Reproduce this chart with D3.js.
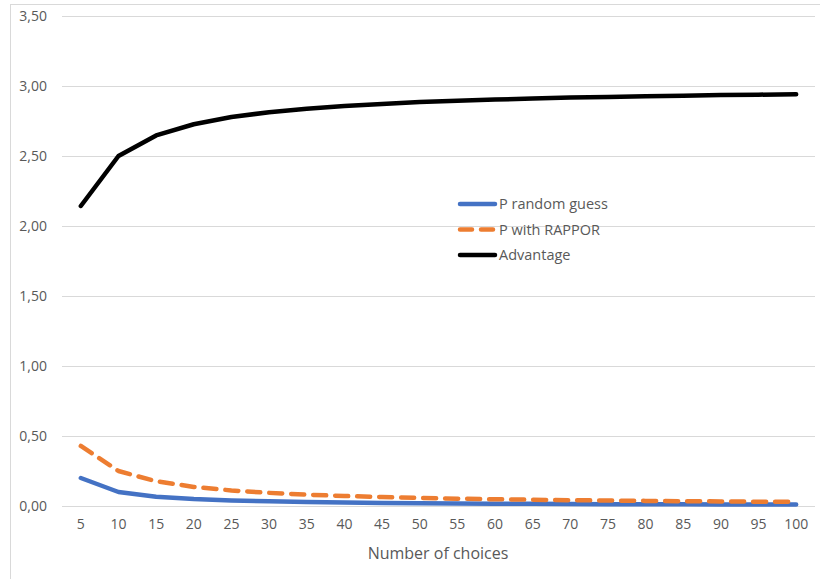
<!DOCTYPE html>
<html>
<head>
<meta charset="utf-8">
<script src="https://cdn.jsdelivr.net/npm/d3@7"></script>
<style>
  html, body { margin: 0; padding: 0; background: #fff; }
  svg { display: block; font-family: "Open Sans", "Liberation Sans", sans-serif; }
</style>
</head>
<body>
<svg id="chart" width="820" height="579"></svg>
<script>
// Number of choices on the x axis
const choices = [5, 10, 15, 20, 25, 30, 35, 40, 45, 50, 55, 60, 65, 70, 75, 80, 85, 90, 95, 100];

// Probability of guessing right at random
const pRandom = [0.2000, 0.1000, 0.0667, 0.0500, 0.0400, 0.0333, 0.0286, 0.0250, 0.0222, 0.0200,
                 0.0182, 0.0167, 0.0154, 0.0143, 0.0133, 0.0125, 0.0118, 0.0111, 0.0105, 0.0100];

// Probability of guessing right with RAPPOR
const pRappor = [0.4286, 0.2500, 0.1765, 0.1364, 0.1111, 0.0938, 0.0811, 0.0714, 0.0638, 0.0577,
                 0.0526, 0.0484, 0.0448, 0.0417, 0.0390, 0.0366, 0.0345, 0.0326, 0.0309, 0.0294];

// Advantage ratio
const advantage = [2.143, 2.500, 2.647, 2.727, 2.778, 2.813, 2.838, 2.857, 2.872, 2.885,
                   2.895, 2.903, 2.910, 2.917, 2.922, 2.927, 2.931, 2.935, 2.938, 2.941];

const yTicks = [0, 0.5, 1, 1.5, 2, 2.5, 3, 3.5];

const seriesNames = ["P random guess", "P with RAPPOR", "Advantage"];
const seriesColors = ["#4472C4", "#ED7D31", "#000000"];

const series = [
  { name: seriesNames[0], values: pRandom,   color: seriesColors[0], dash: null },
  { name: seriesNames[1], values: pRappor,   color: seriesColors[1], dash: "13,9" },
  { name: seriesNames[2], values: advantage, color: seriesColors[2], dash: null }
];

const svg = d3.select("#chart");
const plot = { left: 62, right: 815, top: 16, bottom: 506 };

// Chart area frame
svg.append("rect")
  .attr("x", 10.5).attr("y", 4.5)
  .attr("width", 820).attr("height", 600)
  .attr("fill", "none").attr("stroke", "#d9d9d9").attr("stroke-width", 1);

const x = d3.scaleBand().domain(choices).range([plot.left, plot.right]);
const y = d3.scaleLinear().domain([0, 3.5]).range([plot.bottom, plot.top]);

// Horizontal gridlines
svg.append("g").selectAll("line").data(yTicks).join("line")
  .attr("x1", plot.left).attr("x2", plot.right)
  .attr("y1", d => Math.round(y(d)) + 0.5).attr("y2", d => Math.round(y(d)) + 0.5)
  .attr("stroke", "#d9d9d9").attr("stroke-width", 1);

// Y axis labels
const yAxis = d3.axisLeft(y).tickValues(yTicks).tickSize(0).tickPadding(0)
  .tickFormat(d => d3.format(".2f")(d).replace(".", ","));
const gy = svg.append("g").attr("transform", `translate(${plot.left - 15},0)`).call(yAxis);
gy.select(".domain").remove();
gy.selectAll("text").attr("font-size", 14).attr("fill", "#595959")
  .attr("font-family", "\"Open Sans\", sans-serif");

// X axis labels
const xAxis = d3.axisBottom(x).tickSize(0).tickPadding(0);
const gx = svg.append("g").attr("transform", `translate(0,${plot.bottom + 13})`).call(xAxis);
gx.select(".domain").remove();
gx.selectAll("text").attr("font-size", 14).attr("fill", "#595959")
  .attr("font-family", "\"Open Sans\", sans-serif");

// X axis title
svg.append("text")
  .attr("x", 438).attr("y", 559)
  .attr("text-anchor", "middle").attr("font-size", 16).attr("fill", "#595959")
  .text("Number of choices");

// Series lines
const line = d3.line()
  .x((d, i) => x(choices[i]) + x.bandwidth() / 2)
  .y(d => y(d));

svg.append("g").selectAll("path").data(series).join("path")
  .attr("d", s => line(s.values))
  .attr("fill", "none")
  .attr("stroke", s => s.color)
  .attr("stroke-width", 4.5)
  .attr("stroke-linejoin", "round")
  .attr("stroke-linecap", "round")
  .attr("stroke-dasharray", s => s.dash);

// Legend
const legend = svg.append("g").attr("transform", "translate(458,204)");
const rows = legend.selectAll("g").data(series).join("g")
  .attr("transform", (d, i) => `translate(0,${i * 25.5})`);
rows.append("line")
  .attr("x1", 2).attr("x2", 37).attr("y1", 0).attr("y2", 0)
  .attr("stroke", d => d.color).attr("stroke-width", 4.5)
  .attr("stroke-linecap", "round")
  .attr("stroke-dasharray", d => d.dash ? "12,9" : null);
rows.append("text")
  .attr("x", 41).attr("y", 0).attr("dy", "0.35em")
  .attr("font-size", 14.5).attr("fill", "#595959")
  .text(d => d.name);
</script>
</body>
</html>
